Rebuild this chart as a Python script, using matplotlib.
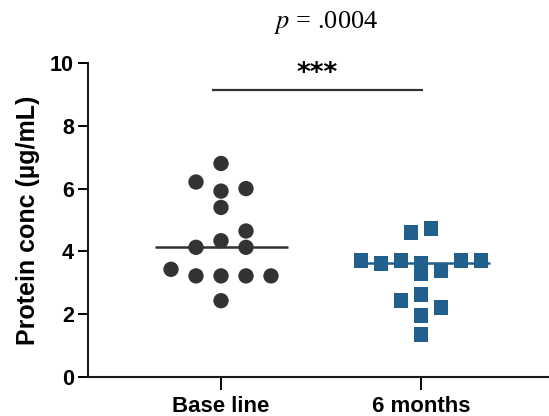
import matplotlib
matplotlib.use("Agg")
import matplotlib.pyplot as plt
import numpy as np

plt.rcParams['font.family'] = ['Liberation Sans', 'DejaVu Sans']
plt.rcParams['mathtext.fontset'] = 'stix'

groups = ["Base line", "6 months"]
baseline = [6.80, 6.21, 5.92, 6.00, 5.40, 4.65, 4.34, 4.13, 4.13, 3.43,
            3.22, 3.22, 3.22, 3.22, 2.43]
months6 = [4.60, 4.73, 3.72, 3.62, 3.72, 3.62, 3.28, 3.40, 3.72, 3.72,
           2.64, 2.45, 2.22, 1.95, 1.34]
p_text = r"$p$ = .0004"
stars = "***"

# column scatter slots (horizontal spread of points sharing a level)
slots_base = [0, -1, 0, 1, 0, 1, 0, -1, 1, -2, -1, 0, 1, 2, 0]
slots_6m = [-0.5, 0.5, -3, -2, -1, 0, 0, 1, 2, 3, 0, -1, 1, 0, 0]

c_base = "#333333"
c_6m = "#215f8c"

fig = plt.figure(figsize=(5.49, 4.16), dpi=100)
ax = fig.add_axes([88/549, 39/416, 460/549, 314/416])

xb = 0 + np.array(slots_base) * 0.125
x6 = 1 + np.array(slots_6m) * 0.1
ax.scatter(xb, baseline, s=122, marker="o", color=c_base, edgecolor="none", zorder=3, clip_on=False)
ax.scatter(x6, months6, s=115, marker="s", color=c_6m, edgecolor="none", zorder=3, clip_on=False)

# median lines
ax.hlines(np.median(baseline), -0.33, 0.335, color=c_base, lw=1.8, zorder=2)
ax.hlines(np.median(months6), 1 - 0.33, 1 + 0.345, color=c_6m, lw=1.8, zorder=2)

# significance bracket
ax.hlines(9.15, -0.047, 1.01, color="#333333", lw=1.6, clip_on=False)
ax.text(0.48, 9.66, stars, ha="center", va="center", fontsize=19,
        fontweight="bold", family="DejaVu Sans", color="black")
fig.text(326/549, 1 - 22/416, p_text, ha="center", va="center",
         fontsize=19, family="Liberation Serif")

ax.set_xlim(-0.665, 1.635)
ax.set_ylim(0, 10)
ax.set_xticks([0, 1])
ax.set_xticklabels(groups, fontsize=16, fontweight="bold")
ax.set_yticks([0, 2, 4, 6, 8, 10])
ax.set_yticklabels(["0", "2", "4", "6", "8", "10"], fontsize=15.5, fontweight="bold")
ax.tick_params(axis="y", length=7, width=1.4, pad=3)
ax.tick_params(axis="x", length=9, width=1.4, pad=5)
ax.set_ylabel("Protein conc (µg/mL)", fontsize=18, fontweight="bold", labelpad=7)

for side in ["top", "right"]:
    ax.spines[side].set_visible(False)
for side in ["left", "bottom"]:
    ax.spines[side].set_linewidth(1.5)
    ax.spines[side].set_color("#1a1a1a")

fig.savefig("out.png", dpi=100)
plt.close(fig)
